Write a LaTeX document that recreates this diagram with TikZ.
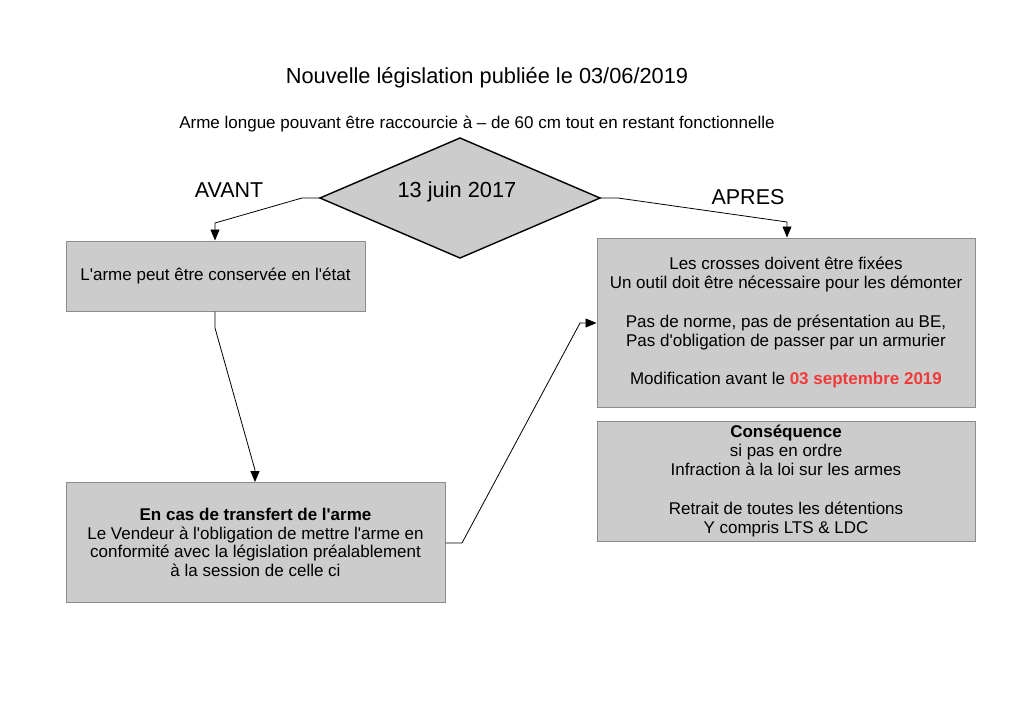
\documentclass[tikz,border=0pt]{standalone}
\usepackage{fontspec}
\setmainfont{Liberation Sans}
\usetikzlibrary{arrows.meta}
\definecolor{boxfill}{HTML}{CCCCCC}
\definecolor{boxline}{HTML}{8C8C8C}
\definecolor{redtxt}{HTML}{F23A3A}
\newcommand{\ap}{\textquotesingle}
\tikzset{
  boxnode/.style={draw=boxline, line width=1pt, fill=boxfill, rectangle, align=center, inner sep=0pt,
    font=\fontsize{17}{19.2}\selectfont},
  conn/.style={draw=black, line width=0.8pt, -{Triangle[length=11pt,width=9pt]}},
  lbl/.style={inner sep=0pt, font=\fontsize{21.5}{24}\selectfont},
}
\begin{document}
\begin{tikzpicture}[x=1pt,y=-1pt]
\useasboundingbox (0,0) rectangle (1024,724);
% title
\node[inner sep=0pt, font=\fontsize{21.8}{24}\selectfont] (title) at (487,78) {Nouvelle législation publiée le 03/06/2019};
\node[inner sep=0pt, font=\fontsize{17}{19}\selectfont] (sub) at (477,124) {Arme longue pouvant être raccourcie à – de 60 cm tout en restant fonctionnelle};
% diamond
\coordinate (dt) at (460,138);
\coordinate (db) at (460,258);
\coordinate (dl) at (320,198);
\coordinate (dr) at (600,198);
\draw[fill=boxfill, draw=black, line width=1.4pt, line join=miter] (dt) -- (dr) -- (db) -- (dl) -- cycle;
\node[inner sep=0pt, font=\fontsize{21.8}{24}\selectfont] (date) at (457,192) {13 juin 2017};
% labels
\node[lbl] (avant) at (229,190) {AVANT};
\node[lbl] (apres) at (748,197) {APRES};
% boxes
\node[boxnode, minimum width=299pt, minimum height=70pt] (b1) at (215.5,276) {L\ap arme peut être conservée en l\ap état};
\node[boxnode, minimum width=379pt, minimum height=120pt, font=\fontsize{17}{18.5}\selectfont] (b2) at (255.5,542.5)
  {\textbf{En cas de transfert de l\ap arme}\\Le Vendeur à l\ap obligation de mettre l\ap arme en\\conformité avec la législation préalablement\\à la session de celle ci};
\node[boxnode, minimum width=378pt, minimum height=169pt] (r1) at (786,322.5)
  {Les crosses doivent être fixées\\Un outil doit être nécessaire pour les démonter\\[19.2pt]Pas de norme, pas de présentation au BE,\\Pas d\ap obligation de passer par un armurier\\[19.2pt]Modification avant le \textcolor{redtxt}{\textbf{03 septembre 2019}}};
\node[boxnode, minimum width=378pt, minimum height=120pt] (r2) at (786,481)
  {\textbf{Conséquence}\\si pas en ordre\\Infraction à la loi sur les armes\\[19pt]Retrait de toutes les détentions\\Y compris LTS \& LDC};
% connectors
\coordinate (a1) at (302,198);
\coordinate (a2) at (215,223);
\draw[conn] (dl) -- (a1) -- (a2) -- (a2 |- b1.north);
\coordinate (p1) at (618,198);
\coordinate (p2) at (787,222);
\draw[conn] (dr) -- (p1) -- (p2) -- (p2 |- r1.north);
\coordinate (c1) at (215,328);
\coordinate (c2) at (255,470);
\draw[conn] (b1.south -| c1) -- (c1) -- (c2) -- (c2 |- b2.north);
\coordinate (e1) at (462,543);
\coordinate (e2) at (580,323);
\draw[conn] (b2.east |- e1) -- (e1) -- (e2) -- (e2 -| r1.west);
\end{tikzpicture}
\end{document}
